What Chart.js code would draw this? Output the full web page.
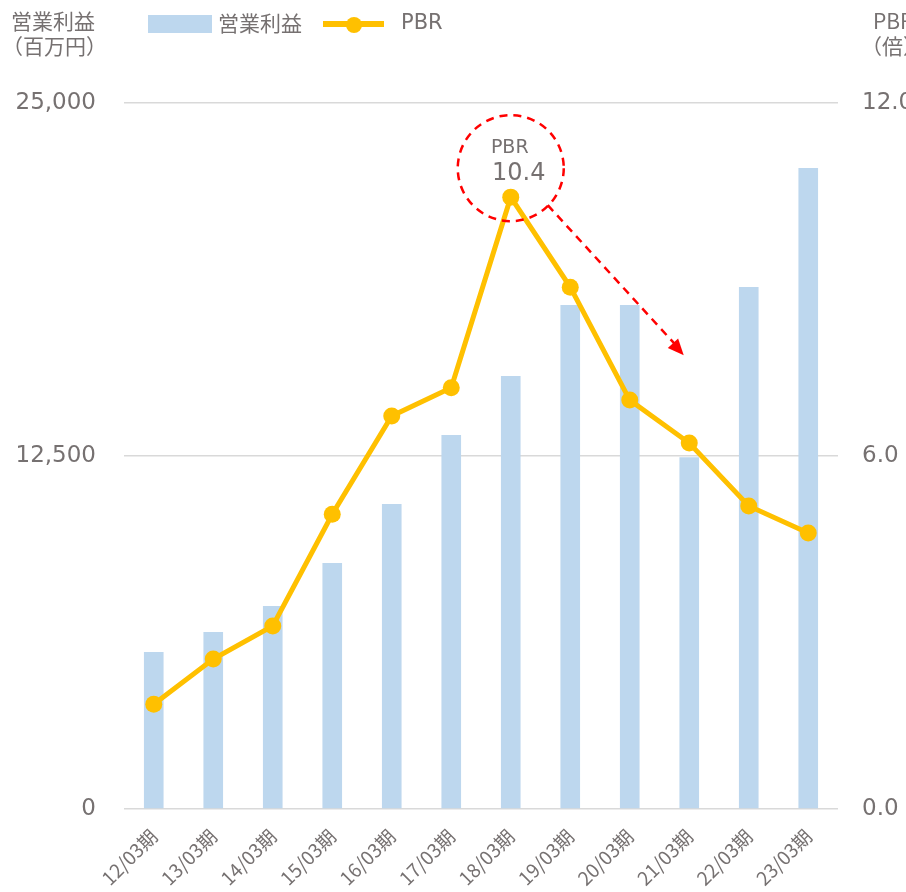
<!DOCTYPE html>
<html>
<head>
<meta charset="utf-8">
<script src="https://cdn.jsdelivr.net/npm/chart.js@4/dist/chart.umd.min.js"></script>
<style>
html,body{margin:0;padding:0;background:#fff;}
#wrap{position:relative;width:906px;height:892px;}
</style>
</head>
<body>
<div id="wrap"><canvas id="c" width="906" height="892"></canvas></div>
<script>
const categories = ['12/03期','13/03期','14/03期','15/03期','16/03期','17/03期','18/03期','19/03期','20/03期','21/03期','22/03期','23/03期'];
const operatingProfit = [5560, 6270, 7190, 8710, 10800, 13240, 15330, 17850, 17850, 12460, 18480, 22700];
const pbr = [1.78, 2.55, 3.11, 5.01, 6.68, 7.16, 10.4, 8.87, 6.95, 6.22, 5.15, 4.69];
const leftTicks = [0, 12500, 25000];
const rightTicks = [0, 6, 12];
const seriesNames = ['営業利益', 'PBR'];
const leftTitle = ['営業利益', '（百万円）'];
const rightTitle = ['PBR', '（倍）'];
const peakLabel = ['PBR', '10.4'];
const peakIndex = 6;

const FONT = "'DejaVu Sans','Noto Sans CJK JP',sans-serif";
const JFONT = "'Noto Sans CJK JP','DejaVu Sans',sans-serif";
const GRAY = '#767171';
const BLUE = '#BDD7EE';
const ORANGE = '#FFC000';

const decorPlugin = {
  id: 'decor',
  afterDraw(chart) {
    const ctx = chart.ctx;
    ctx.save();
    // axis titles
    ctx.fillStyle = GRAY;
    ctx.font = '21px ' + JFONT;
    ctx.textBaseline = 'middle';
    ctx.textAlign = 'left';
    ctx.fillText(leftTitle[0], 11, 21);
    ctx.fillText(leftTitle[1], 2, 46);
    ctx.fillText(rightTitle[0], 873, 21);
    ctx.fillText(rightTitle[1], 861, 46);
    // legend
    ctx.fillStyle = BLUE;
    ctx.fillRect(148, 15, 64, 18);
    ctx.fillStyle = GRAY;
    ctx.font = '21px ' + JFONT;
    ctx.fillText(seriesNames[0], 218, 23);
    ctx.strokeStyle = ORANGE;
    ctx.lineWidth = 6;
    ctx.beginPath(); ctx.moveTo(323, 24); ctx.lineTo(384, 24); ctx.stroke();
    ctx.fillStyle = ORANGE;
    ctx.beginPath(); ctx.arc(354, 25, 8, 0, Math.PI*2); ctx.fill();
    ctx.fillStyle = GRAY;
    ctx.font = '21px ' + FONT;
    ctx.fillText(seriesNames[1], 401, 24);

    // peak annotation
    const xs = chart.scales.x, ys = chart.scales.y1;
    const px = xs.getPixelForValue(peakIndex);
    const py = ys.getPixelForValue(pbr[peakIndex]);
    ctx.strokeStyle = '#FF0000';
    ctx.lineWidth = 2.5;
    ctx.setLineDash([8, 6]);
    ctx.beginPath();
    ctx.arc(px, py - 29, 53, 0, Math.PI*2);
    ctx.stroke();
    // arrow
    const ax0 = px + 37, ay0 = py + 8;
    const ax1 = px + 166, ay1 = py + 149;
    ctx.beginPath(); ctx.moveTo(ax0, ay0); ctx.lineTo(ax1, ay1); ctx.stroke();
    ctx.setLineDash([]);
    const ang = Math.atan2(ay1 - ay0, ax1 - ax0);
    const tipX = px + 173, tipY = py + 158;
    ctx.fillStyle = '#FF0000';
    ctx.beginPath();
    ctx.moveTo(tipX, tipY);
    ctx.lineTo(tipX - 16*Math.cos(ang) + 7*Math.sin(ang), tipY - 16*Math.sin(ang) - 7*Math.cos(ang));
    ctx.lineTo(tipX - 16*Math.cos(ang) - 7*Math.sin(ang), tipY - 16*Math.sin(ang) + 7*Math.cos(ang));
    ctx.closePath(); ctx.fill();
    // text
    ctx.fillStyle = GRAY;
    ctx.textAlign = 'center';
    ctx.font = '19px ' + FONT;
    ctx.fillText(peakLabel[0], px - 1, py - 49);
    ctx.font = '24px ' + FONT;
    ctx.fillText(peakLabel[1], px + 8, py - 23);
    ctx.restore();
  }
};

new Chart(document.getElementById('c'), {
  data: {
    labels: categories,
    datasets: [
      {
        type: 'line',
        label: seriesNames[1],
        data: pbr,
        yAxisID: 'y1',
        borderColor: ORANGE,
        backgroundColor: ORANGE,
        borderWidth: 5,
        pointRadius: 8.5,
        pointBackgroundColor: ORANGE,
        pointBorderColor: ORANGE,
        pointBorderWidth: 0,
        tension: 0,
        order: 0
      },
      {
        type: 'bar',
        label: seriesNames[0],
        data: operatingProfit,
        yAxisID: 'y',
        backgroundColor: BLUE,
        categoryPercentage: 1,
        barPercentage: 0.33,
        order: 1
      }
    ]
  },
  options: {
    responsive: false,
    animation: false,
    devicePixelRatio: 1,
    layout: { padding: { top: 103, left: 0, right: 0, bottom: 0 } },
    plugins: { legend: { display: false }, tooltip: { enabled: false } },
    scales: {
      x: {
        grid: { display: false, drawTicks: false },
        border: { display: false },
        ticks: {
          color: GRAY,
          font: { size: 19, family: JFONT },
          minRotation: 45, maxRotation: 45,
          padding: 16
        },
        afterFit(s) { s.height = 83; }
      },
      y: {
        position: 'left',
        min: 0, max: 25000,
        afterBuildTicks(s) { s.ticks = leftTicks.map(v => ({ value: v })); },
        grid: { color: '#D9D9D9', lineWidth: 1.5, drawTicks: false },
        border: { display: false },
        ticks: {
          color: GRAY,
          font: { size: 23, family: FONT },
          padding: 28,
          callback: v => Number(v).toLocaleString('en-US')
        },
        afterFit(s) { s.width = 124; }
      },
      y1: {
        position: 'right',
        min: 0, max: 12,
        afterBuildTicks(s) { s.ticks = rightTicks.map(v => ({ value: v })); },
        grid: { display: false, drawTicks: false },
        border: { display: false },
        ticks: {
          color: GRAY,
          font: { size: 23, family: FONT },
          padding: 24,
          callback: v => Number(v).toFixed(1)
        },
        afterFit(s) { s.width = 68; }
      }
    }
  },
  plugins: [decorPlugin]
});
</script>
</body>
</html>
